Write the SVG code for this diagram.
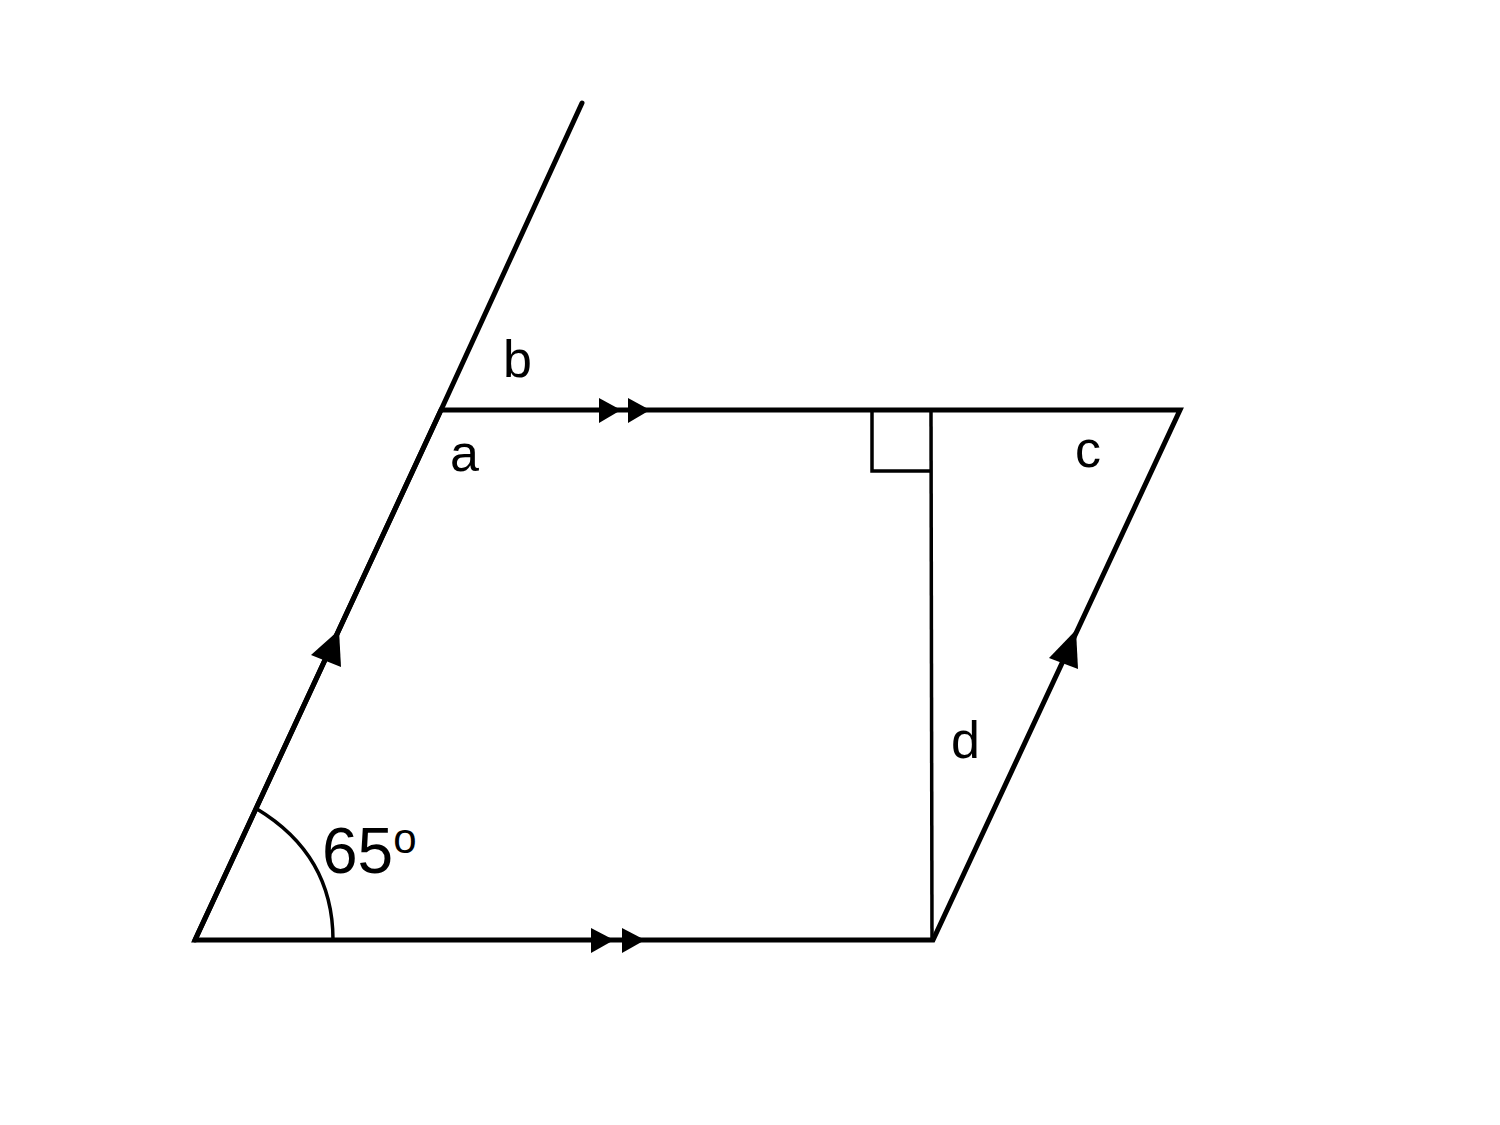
<svg xmlns="http://www.w3.org/2000/svg" width="1500" height="1125" viewBox="0 0 1500 1125">
<style>
.ln{stroke:#000;fill:none;stroke-width:5;stroke-linecap:round;stroke-linejoin:miter}
.thin{stroke:#000;fill:none;stroke-width:3.5}
.ah{fill:#000;stroke:none}
.lbl{font-family:"Liberation Sans",Arial,sans-serif;font-size:52px;fill:#000}
</style>
<rect width="1500" height="1125" fill="#fff"/>
<g id="connectors">
<path class="ln" d="M195,940 L441,410 L582,103" />
<path class="ln" d="M441,410 L1180,410 L933,940 L195,940 Z" style="stroke-linecap:butt"/>
<line class="thin" x1="931" y1="410" x2="932" y2="940"/>
<polyline class="thin" points="872,410 872,471 931,471"/>
<path class="thin" d="M333,940 C333,880 305,838 257,809"/>
</g>
<g id="arrows">
<polygon class="ah" points="599,398 621,410 599,423"/>
<polygon class="ah" points="628,398 650,410 628,423"/>
<polygon class="ah" points="591,928 614,940 591,953"/>
<polygon class="ah" points="622,928 645,940 622,953"/>
<polygon class="ah" points="339,630 311,655 341,667"/>
<polygon class="ah" points="1076,630 1049,658 1078,669"/>
</g>
<g id="labels">
<text class="lbl" x="503" y="377">b</text>
<text class="lbl" x="450" y="471">a</text>
<text class="lbl" x="1075" y="467">c</text>
<text class="lbl" x="951" y="758">d</text>
<text class="lbl" x="322" y="873" style="font-size:64px">65<tspan style="font-size:42px" dy="-20">o</tspan></text>
</g>
</svg>
